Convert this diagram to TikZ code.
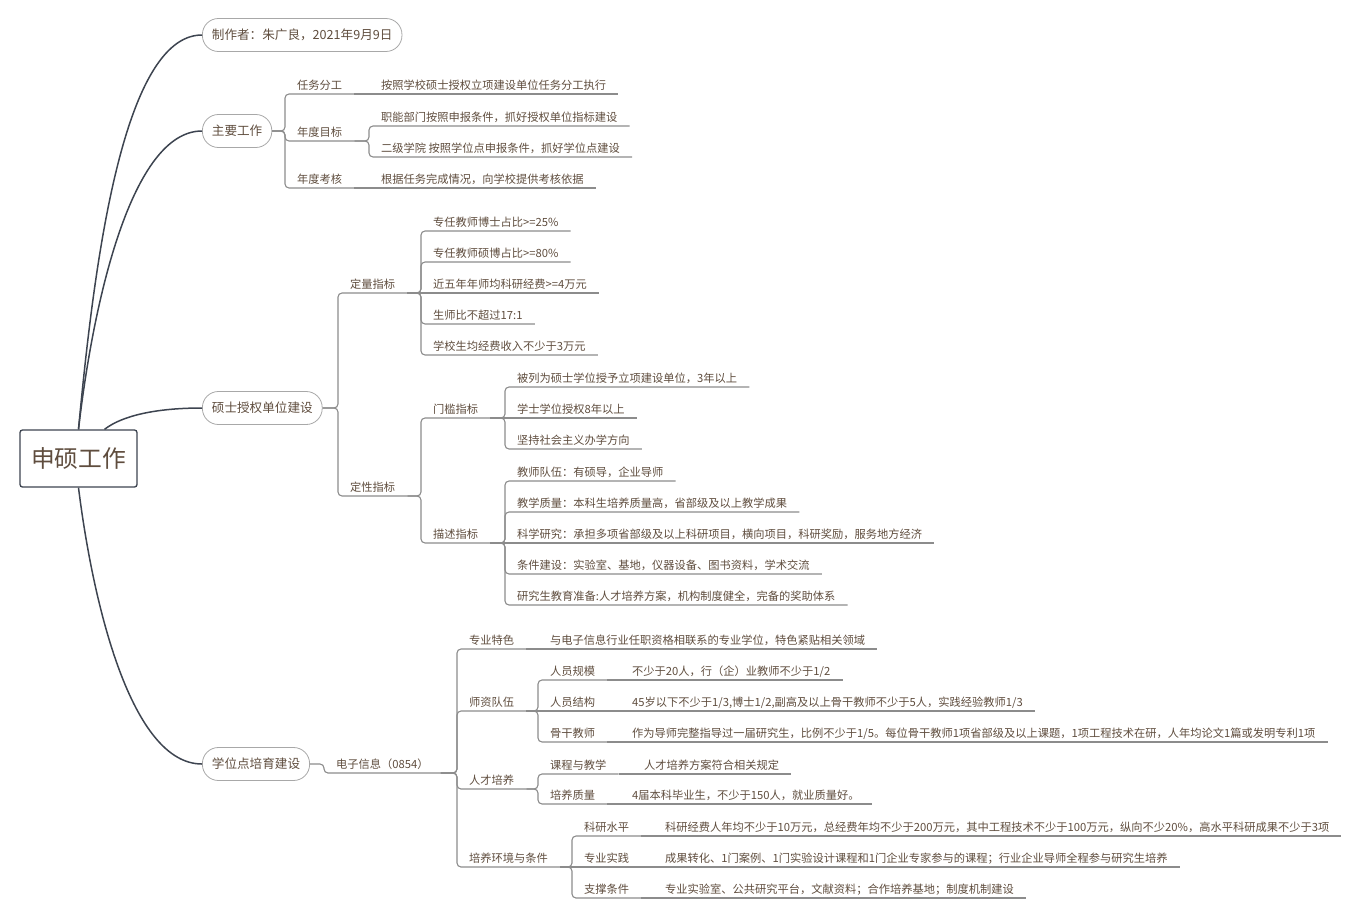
\documentclass[tikz,border=0pt]{standalone}
\usepackage{fontspec}
\usepackage{tikz}
\newfontfamily\cjk{Noto Sans CJK SC}
\definecolor{ink}{HTML}{5F4D3E}
\definecolor{limbdark}{HTML}{3D4450}
\definecolor{linegrey}{HTML}{8C8C8C}
\definecolor{pillgrey}{HTML}{A8A8A8}
\tikzset{
  root/.style={draw=limbdark, line width=1.3pt, rounded corners=2.5pt,
    minimum width=117pt, minimum height=57pt, text=ink,
    font=\cjk\fontsize{23.75}{28}\selectfont},
  pill/.style={draw=pillgrey, line width=0.8pt, rounded corners=16pt,
    minimum height=33pt, inner xsep=9.5pt, anchor=west, text=ink,
    font=\cjk\fontsize{12.6}{15}\selectfont},
  topic/.style={anchor=south west, inner xsep=12pt, inner ysep=3pt,
    text height=9.6pt, text depth=1.7pt, text=ink,
    font=\cjk\fontsize{11.25}{14}\selectfont},
  limb/.style={draw=limbdark, line width=1.5pt},
  branch/.style={draw=linegrey, line width=1.1pt, rounded corners=4pt},
}

\begin{document}
\begin{tikzpicture}[x=1pt, y=-1pt]
	\useasboundingbox (0,0) rectangle (1352,921);
	\node [root] (sx) at (78.5,458.5) {申硕工作};
	\node [pill] (maker) at (202,35) {制作者：朱广良，2021年9月9日};
	\node [pill] (work) at (202,131) {主要工作};
	\node [pill] (unit) at (202,408) {硕士授权单位建设};
	\node [pill] (site) at (202,764) {学位点培育建设};
	\draw [limb] (sx.north) .. controls +(15,-160) and +(-80,0) .. (maker.west);
	\draw [limb] (sx.north) .. controls +(15,-130) and +(-70,0) .. (work.west);
	\draw [limb] ([xshift=26pt]sx.north) .. controls +(18,-14) and +(-45,0) .. (unit.west);
	\draw [limb] (sx.south) .. controls +(15,120) and +(-70,0) .. (site.west);

	\node [topic] (task) at (285,94) {任务分工};
	\node [topic] (goal) at (285,141) {年度目标};
	\node [topic] (check) at (285,188) {年度考核};
	\node [topic] (task1) at (369,94) {按照学校硕士授权立项建设单位任务分工执行};
	\node [topic] (goal1) at (369,126) {职能部门按照申报条件，抓好授权单位指标建设};
	\node [topic] (goal2) at (369,157) {二级学院 按照学位点申报条件，抓好学位点建设};
	\node [topic] (check1) at (369,188) {根据任务完成情况，向学校提供考核依据};
	\draw [branch] (work.east) -| (task.south west) -- (task.south east);
	\draw [branch] (work.east) -| (goal.south west) -- (goal.south east);
	\draw [branch] (work.east) -| (check.south west) -- (check.south east);
	\draw [branch] (task.south east) -- (task1.south west) -- (task1.south east);
	\draw [branch] (goal.south east) -| (goal1.south west) -- (goal1.south east);
	\draw [branch] (goal.south east) -| (goal2.south west) -- (goal2.south east);
	\draw [branch] (check.south east) -- (check1.south west) -- (check1.south east);

	\node [topic] (quant) at (338,293) {定量指标};
	\node [topic] (qual) at (338,496) {定性指标};
	\node [topic] (quant1) at (421,231) {专任教师博士占比>=25\%};
	\node [topic] (quant2) at (421,262) {专任教师硕博占比>=80\%};
	\node [topic] (quant3) at (421,293) {近五年年师均科研经费>=4万元};
	\node [topic] (quant4) at (421,324) {生师比不超过17:1};
	\node [topic] (quant5) at (421,355) {学校生均经费收入不少于3万元};
	\node [topic] (sill) at (421,418) {门槛指标};
	\node [topic] (desc) at (421,543) {描述指标};
	\node [topic] (sill1) at (505,387) {被列为硕士学位授予立项建设单位，3年以上};
	\node [topic] (sill2) at (505,418) {学士学位授权8年以上};
	\node [topic] (sill3) at (505,449) {坚持社会主义办学方向};
	\node [topic] (desc1) at (505,481) {教师队伍：有硕导，企业导师};
	\node [topic] (desc2) at (505,512) {教学质量：本科生培养质量高，省部级及以上教学成果};
	\node [topic] (desc3) at (505,543) {科学研究：承担多项省部级及以上科研项目，横向项目，科研奖励，服务地方经济};
	\node [topic] (desc4) at (505,574) {条件建设：实验室、基地，仪器设备、图书资料，学术交流};
	\node [topic] (desc5) at (505,605) {研究生教育准备:人才培养方案，机构制度健全，完备的奖助体系};
	\draw [branch] (unit.east) -| (quant.south west) -- (quant.south east);
	\draw [branch] (unit.east) -| (qual.south west) -- (qual.south east);
	\draw [branch] (quant.south east) -| (quant1.south west) -- (quant1.south east);
	\draw [branch] (quant.south east) -| (quant2.south west) -- (quant2.south east);
	\draw [branch] (quant.south east) -- (quant3.south west) -- (quant3.south east);
	\draw [branch] (quant.south east) -| (quant4.south west) -- (quant4.south east);
	\draw [branch] (quant.south east) -| (quant5.south west) -- (quant5.south east);
	\draw [branch] (qual.south east) -| (sill.south west) -- (sill.south east);
	\draw [branch] (qual.south east) -| (desc.south west) -- (desc.south east);
	\draw [branch] (sill.south east) -| (sill1.south west) -- (sill1.south east);
	\draw [branch] (sill.south east) -- (sill2.south west) -- (sill2.south east);
	\draw [branch] (sill.south east) -| (sill3.south west) -- (sill3.south east);
	\draw [branch] (desc.south east) -| (desc1.south west) -- (desc1.south east);
	\draw [branch] (desc.south east) -| (desc2.south west) -- (desc2.south east);
	\draw [branch] (desc.south east) -- (desc3.south west) -- (desc3.south east);
	\draw [branch] (desc.south east) -| (desc4.south west) -- (desc4.south east);
	\draw [branch] (desc.south east) -| (desc5.south west) -- (desc5.south east);

	\node [topic] (ei) at (324,773) {电子信息（0854）};
	\node [topic] (feat) at (457,649) {专业特色};
	\node [topic] (staff) at (457,711) {师资队伍};
	\node [topic] (talent) at (457,789) {人才培养};
	\node [topic] (env) at (457,867) {培养环境与条件};
	\node [topic] (feat1) at (538,649) {与电子信息行业任职资格相联系的专业学位，特色紧贴相关领域};
	\node [topic] (scale) at (538,680) {人员规模};
	\node [topic] (struct) at (538,711) {人员结构};
	\node [topic] (core) at (538,742) {骨干教师};
	\node [topic] (scale1) at (620,680) {不少于20人，行（企）业教师不少于1/2};
	\node [topic] (struct1) at (620,711) {45岁以下不少于1/3,博士1/2,副高及以上骨干教师不少于5人，实践经验教师1/3};
	\node [topic] (core1) at (620,742) {作为导师完整指导过一届研究生，比例不少于1/5。每位骨干教师1项省部级及以上课题，1项工程技术在研，人年均论文1篇或发明专利1项};
	\node [topic] (course) at (538,774) {课程与教学};
	\node [topic] (quality) at (538,804) {培养质量};
	\node [topic] (course1) at (632,774) {人才培养方案符合相关规定};
	\node [topic] (quality1) at (620,804) {4届本科毕业生，不少于150人，就业质量好。};
	\node [topic] (res) at (572,836) {科研水平};
	\node [topic] (prac) at (572,867) {专业实践};
	\node [topic] (supp) at (572,898) {支撑条件};
	\node [topic] (res1) at (653,836) {科研经费人年均不少于10万元，总经费年均不少于200万元，其中工程技术不少于100万元，纵向不少20\%，高水平科研成果不少于3项};
	\node [topic] (prac1) at (653,867) {成果转化、1门案例、1门实验设计课程和1门企业专家参与的课程；行业企业导师全程参与研究生培养};
	\node [topic] (supp1) at (653,898) {专业实验室、公共研究平台，文献资料；合作培养基地；制度机制建设};
	\draw [branch] (site.east) -| (ei.south west) -- (ei.south east);
	\draw [branch] (ei.south east) -| (feat.south west) -- (feat.south east);
	\draw [branch] (ei.south east) -| (staff.south west) -- (staff.south east);
	\draw [branch] (ei.south east) -| (talent.south west) -- (talent.south east);
	\draw [branch] (ei.south east) -| (env.south west) -- (env.south east);
	\draw [branch] (feat.south east) -- (feat1.south west) -- (feat1.south east);
	\draw [branch] (staff.south east) -| (scale.south west) -- (scale.south east);
	\draw [branch] (staff.south east) -- (struct.south west) -- (struct.south east);
	\draw [branch] (staff.south east) -| (core.south west) -- (core.south east);
	\draw [branch] (scale.south east) -- (scale1.south west) -- (scale1.south east);
	\draw [branch] (struct.south east) -- (struct1.south west) -- (struct1.south east);
	\draw [branch] (core.south east) -- (core1.south west) -- (core1.south east);
	\draw [branch] (talent.south east) -| (course.south west) -- (course.south east);
	\draw [branch] (talent.south east) -| (quality.south west) -- (quality.south east);
	\draw [branch] (course.south east) -- (course1.south west) -- (course1.south east);
	\draw [branch] (quality.south east) -- (quality1.south west) -- (quality1.south east);
	\draw [branch] (env.south east) -| (res.south west) -- (res.south east);
	\draw [branch] (env.south east) -- (prac.south west) -- (prac.south east);
	\draw [branch] (env.south east) -| (supp.south west) -- (supp.south east);
	\draw [branch] (res.south east) -- (res1.south west) -- (res1.south east);
	\draw [branch] (prac.south east) -- (prac1.south west) -- (prac1.south east);
	\draw [branch] (supp.south east) -- (supp1.south west) -- (supp1.south east);
\end{tikzpicture}
\end{document}
